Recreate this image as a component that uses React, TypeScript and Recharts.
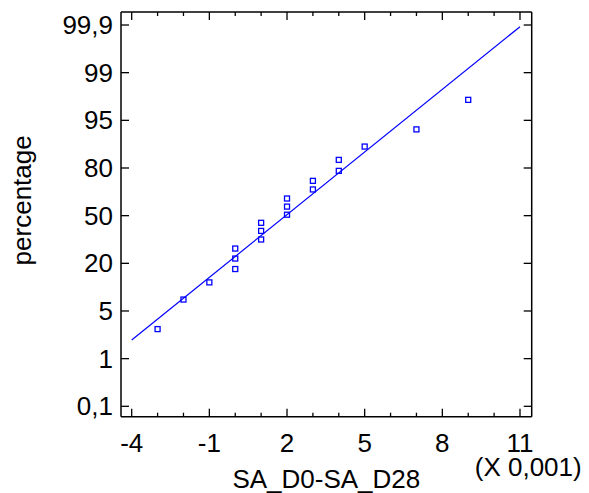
import React from "react";
import { ScatterChart, Scatter, XAxis, YAxis, ReferenceLine } from "recharts";

// x in units of 0.001, y as position on the probability scale (0 = 0,1% ... 8 = 99,9%)
const X_VALUES = [-3, -2, -1, 0, 0, 0, 1, 1, 1, 2, 2, 2, 3, 3, 4, 4, 5, 7, 9];
const Y_POSITIONS = [1.62, 2.24, 2.6, 2.88, 3.1, 3.31, 3.5, 3.68, 3.85, 4.02, 4.19, 4.36, 4.55, 4.73, 4.94, 5.17, 5.45, 5.81, 6.43];

const FIT_X = [-4, 11];
const FIT_Y = [1.39, 7.965];

const X_TICKS = [-4, -3, -2, -1, 0, 1, 2, 3, 4, 5, 6, 7, 8, 9, 10, 11];
const X_LABELED = [-4, -1, 2, 5, 8, 11];
const Y_TICKS = [0, 1, 2, 3, 4, 5, 6, 7, 8];
const Y_LABELS = ["0,1", "1", "5", "20", "50", "80", "95", "99", "99,9"];

const points = X_VALUES.map((x, i) => ({ x, y: Y_POSITIONS[i] }));

const FONT = "'Liberation Sans', Arial, Helvetica, sans-serif";
const BLUE = "#0000ff";
const MAJOR = 8;
const MINOR = 4;
const X_DOMAIN = [-4.413, 11.452];
const Y_DOMAIN = [-0.218, 8.273];

function BottomTick(props: any) {
    const { x, y, payload } = props;
    const major = X_LABELED.includes(payload.value);
    return (
        <g>
            <line x1={x} x2={x} y1={y} y2={y - (major ? MAJOR : MINOR)} stroke="#000" strokeWidth={1.3} />
            {major && (
                <text x={x} y={y + 35} textAnchor="middle" fontSize={26} fontFamily={FONT} fill="#000">
                    {payload.value}
                </text>
            )}
        </g>
    );
}

function TopTick(props: any) {
    const { x, y, payload } = props;
    const major = X_LABELED.includes(payload.value);
    return <line x1={x} x2={x} y1={y} y2={y + (major ? MAJOR : MINOR)} stroke="#000" strokeWidth={1.3} />;
}

function LeftTick(props: any) {
    const { x, y, payload } = props;
    return (
        <g>
            <line x1={x} x2={x + MAJOR} y1={y} y2={y} stroke="#000" strokeWidth={1.3} />
            <text x={x - 8} y={y + 9} textAnchor="end" fontSize={26} fontFamily={FONT} fill="#000">
                {Y_LABELS[payload.value]}
            </text>
        </g>
    );
}

function RightTick(props: any) {
    const { x, y } = props;
    return <line x1={x} x2={x - MAJOR} y1={y} y2={y} stroke="#000" strokeWidth={1.3} />;
}

function Square(props: any) {
    const { cx, cy } = props;
    return <rect x={cx - 2.5} y={cy - 2.5} width={5} height={5} fill="none" stroke={BLUE} strokeWidth={1.3} />;
}

export default function App() {
    return (
        <div style={{ position: "fixed", left: 0, top: 0, background: "#fff" }}>
            <ScatterChart width={589} height={493} margin={{ top: 11, right: 56.3, bottom: 0, left: 0 }}>
                <XAxis
                    xAxisId="b"
                    type="number"
                    dataKey="x"
                    domain={X_DOMAIN}
                    allowDataOverflow
                    ticks={X_TICKS}
                    interval={0}
                    height={76.3}
                    tickSize={0}
                    tickMargin={0}
                    tickLine={false}
                    tick={<BottomTick />}
                    axisLine={{ stroke: "#000", strokeWidth: 1.5 }}
                    label={(p: any) => {
                        const vb = p.viewBox;
                        return (
                            <g>
                                <text x={vb.x + vb.width / 2} y={vb.y + 71} textAnchor="middle" fontSize={26} fontFamily={FONT} fill="#000">
                                    SA_D0-SA_D28
                                </text>
                                <text x={vb.x + vb.width + 50} y={vb.y + 59} textAnchor="end" fontSize={26} fontFamily={FONT} fill="#000">
                                    (X 0,001)
                                </text>
                            </g>
                        );
                    }}
                />
                <XAxis
                    xAxisId="t"
                    orientation="top"
                    type="number"
                    dataKey="x"
                    domain={X_DOMAIN}
                    allowDataOverflow
                    ticks={X_TICKS}
                    interval={0}
                    height={1}
                    tickSize={0}
                    tickMargin={0}
                    tickLine={false}
                    tick={<TopTick />}
                    axisLine={{ stroke: "#000", strokeWidth: 1.5 }}
                />
                <YAxis
                    yAxisId="l"
                    type="number"
                    dataKey="y"
                    domain={Y_DOMAIN}
                    allowDataOverflow
                    ticks={Y_TICKS}
                    interval={0}
                    width={121}
                    tickSize={0}
                    tickMargin={0}
                    tickLine={false}
                    tick={<LeftTick />}
                    axisLine={{ stroke: "#000", strokeWidth: 1.5 }}
                    label={(p: any) => {
                        const vb = p.viewBox;
                        const cx = 31;
                        const cy = vb.y + vb.height / 2 - 14;
                        return (
                            <text x={cx} y={cy} transform={`rotate(-90, ${cx}, ${cy})`} textAnchor="middle" fontSize={26} fontFamily={FONT} fill="#000">
                                percentage
                            </text>
                        );
                    }}
                />
                <YAxis
                    yAxisId="r"
                    orientation="right"
                    type="number"
                    dataKey="y"
                    domain={Y_DOMAIN}
                    allowDataOverflow
                    ticks={Y_TICKS}
                    interval={0}
                    width={1}
                    tickSize={0}
                    tickMargin={0}
                    tickLine={false}
                    tick={<RightTick />}
                    axisLine={{ stroke: "#000", strokeWidth: 1.5 }}
                />
                <ReferenceLine
                    xAxisId="b"
                    yAxisId="l"
                    segment={[{ x: FIT_X[0], y: FIT_Y[0] }, { x: FIT_X[1], y: FIT_Y[1] }]}
                    stroke={BLUE}
                    strokeWidth={1.2}
                />
                <Scatter xAxisId="t" yAxisId="r" data={[]} isAnimationActive={false} />
                <Scatter xAxisId="b" yAxisId="l" data={points} shape={<Square />} isAnimationActive={false} />
            </ScatterChart>
        </div>
    );
}
